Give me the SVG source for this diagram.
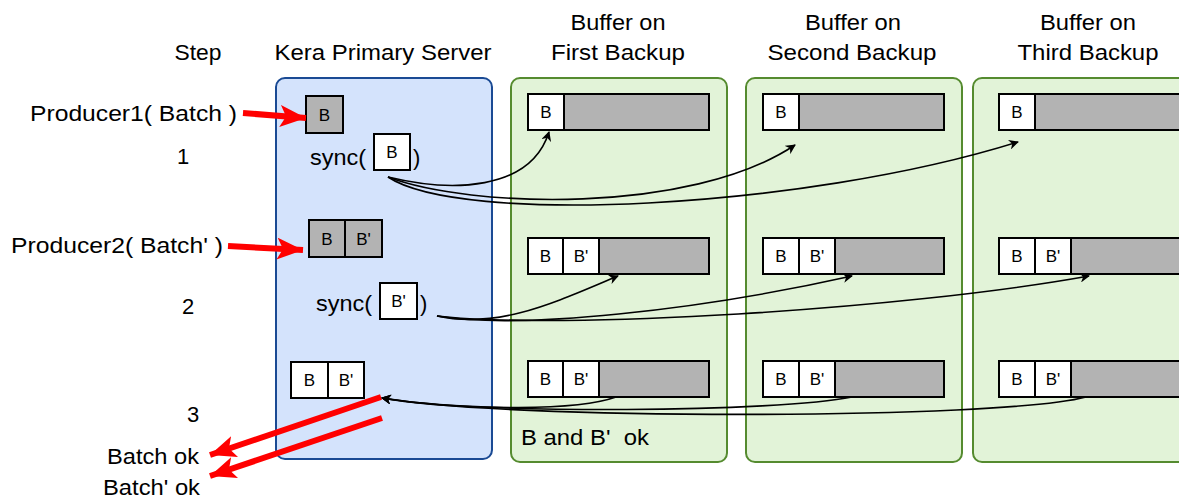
<svg xmlns="http://www.w3.org/2000/svg" width="1179" height="498" viewBox="0 0 1179 498">
<style>
text{font-family:"Liberation Sans",Arial,sans-serif;fill:#000;white-space:pre}
.h{font-size:22px;text-anchor:middle}
.t{font-size:22px}
.c{font-size:17px;text-anchor:middle}
.g{fill:#b3b3b3;stroke:#000;stroke-width:2}
.w{fill:#fff;stroke:#000;stroke-width:2}
.srv{fill:#d4e3fc;stroke:#1a4a94;stroke-width:2}
.bk{fill:#e2f3d8;stroke:#558b2f;stroke-width:2}
.con{fill:none;stroke:#000;stroke-width:1.6}
.red{fill:none;stroke:#ff0000;stroke-width:6}
</style>
<defs>
<marker id="ah" markerWidth="10" markerHeight="10" refX="9" refY="5" orient="auto" markerUnits="userSpaceOnUse">
<path d="M0,0 L10,5 L0,10 L3,5 Z" fill="#000"/>
</marker>
<marker id="rh" markerWidth="28" markerHeight="22" refX="26" refY="11" orient="auto" markerUnits="userSpaceOnUse">
<path d="M0,0 L26,11 L0,22 L6,11 Z" fill="#ff0000"/>
</marker>
</defs>

<g id="headers">
<text class="h" x="198" y="60" textLength="47" lengthAdjust="spacingAndGlyphs">Step</text>
<text class="h" x="383" y="60" textLength="217" lengthAdjust="spacingAndGlyphs">Kera Primary Server</text>
<text class="h" x="618" y="30" textLength="95" lengthAdjust="spacingAndGlyphs">Buffer on</text>
<text class="h" x="618" y="60" textLength="134" lengthAdjust="spacingAndGlyphs">First Backup</text>
<text class="h" x="853" y="30" textLength="96" lengthAdjust="spacingAndGlyphs">Buffer on</text>
<text class="h" x="852" y="60" textLength="169" lengthAdjust="spacingAndGlyphs">Second Backup</text>
<text class="h" x="1088" y="30" textLength="96" lengthAdjust="spacingAndGlyphs">Buffer on</text>
<text class="h" x="1088" y="60" textLength="141" lengthAdjust="spacingAndGlyphs">Third Backup</text>
</g>

<g id="steps">
<text class="h" x="183" y="164">1</text>
<text class="h" x="188" y="314">2</text>
<text class="h" x="193" y="422">3</text>
</g>

<g id="server">
<rect class="srv" x="276" y="78" width="216" height="381" rx="9"/>
</g>
<g id="backup1"><rect class="bk" x="511" y="78" width="216" height="384" rx="9"/></g>
<g id="backup2"><rect class="bk" x="746" y="78" width="216" height="384" rx="9"/></g>
<g id="backup3"><rect class="bk" x="973" y="78" width="216" height="384" rx="9"/></g>

<g id="server-items">
<rect class="g" x="306" y="96" width="37" height="37"/>
<text class="c" x="324.5" y="121">B</text>
<text class="t" x="310" y="165" textLength="56" lengthAdjust="spacingAndGlyphs">sync(</text>
<rect class="w" x="374" y="134" width="36" height="36"/>
<text class="c" x="392" y="158">B</text>
<text class="t" x="413" y="165">)</text>
<rect class="g" x="309" y="220" width="36" height="37"/>
<rect class="g" x="345" y="220" width="37" height="37"/>
<text class="c" x="327" y="245">B</text>
<text class="c" x="363.5" y="245">B'</text>
<text class="t" x="316" y="311" textLength="56" lengthAdjust="spacingAndGlyphs">sync(</text>
<rect class="w" x="380" y="283" width="37" height="36"/>
<text class="c" x="398.5" y="307">B'</text>
<text class="t" x="420" y="311">)</text>
<rect class="w" x="291" y="362" width="37" height="36"/>
<rect class="w" x="328" y="362" width="36" height="36"/>
<text class="c" x="309.5" y="386">B</text>
<text class="c" x="346" y="386">B'</text>
</g>

<g id="buffers">
<rect class="g" x="528" y="94" width="181" height="36"/>
<rect class="w" x="528" y="94" width="36" height="36"/>
<text class="c" x="546" y="118">B</text>
<rect class="g" x="763" y="94" width="181" height="36"/>
<rect class="w" x="763" y="94" width="36" height="36"/>
<text class="c" x="781" y="118">B</text>
<rect class="g" x="999" y="94" width="190" height="36"/>
<rect class="w" x="999" y="94" width="36" height="36"/>
<text class="c" x="1017" y="118">B</text>

<rect class="g" x="528" y="238" width="181" height="36"/>
<rect class="w" x="528" y="238" width="35" height="36"/>
<rect class="w" x="563" y="238" width="36" height="36"/>
<text class="c" x="545.5" y="262">B</text>
<text class="c" x="581" y="262">B'</text>
<rect class="g" x="763" y="238" width="181" height="36"/>
<rect class="w" x="763" y="238" width="36" height="36"/>
<rect class="w" x="799" y="238" width="36" height="36"/>
<text class="c" x="781" y="262">B</text>
<text class="c" x="817" y="262">B'</text>
<rect class="g" x="999" y="238" width="190" height="36"/>
<rect class="w" x="999" y="238" width="36" height="36"/>
<rect class="w" x="1035" y="238" width="36" height="36"/>
<text class="c" x="1017" y="262">B</text>
<text class="c" x="1053" y="262">B'</text>

<rect class="g" x="528" y="361" width="181" height="36"/>
<rect class="w" x="528" y="361" width="35" height="36"/>
<rect class="w" x="563" y="361" width="36" height="36"/>
<text class="c" x="545.5" y="385">B</text>
<text class="c" x="581" y="385">B'</text>
<rect class="g" x="763" y="361" width="181" height="36"/>
<rect class="w" x="763" y="361" width="36" height="36"/>
<rect class="w" x="799" y="361" width="36" height="36"/>
<text class="c" x="781" y="385">B</text>
<text class="c" x="817" y="385">B'</text>
<rect class="g" x="999" y="361" width="190" height="36"/>
<rect class="w" x="999" y="361" width="36" height="36"/>
<rect class="w" x="1035" y="361" width="36" height="36"/>
<text class="c" x="1017" y="385">B</text>
<text class="c" x="1053" y="385">B'</text>

<text class="t" x="521" y="445" textLength="128" lengthAdjust="spacingAndGlyphs">B and B'  ok</text>
</g>

<g id="producers">
<text class="t" x="30" y="121" textLength="207" lengthAdjust="spacingAndGlyphs">Producer1( Batch )</text>
<text class="t" x="11" y="253" textLength="212" lengthAdjust="spacingAndGlyphs">Producer2( Batch' )</text>
<text class="t" x="107" y="464" textLength="92" lengthAdjust="spacingAndGlyphs">Batch ok</text>
<text class="t" x="103" y="495" textLength="97" lengthAdjust="spacingAndGlyphs">Batch' ok</text>
</g>

<g id="connectors">
<path class="red" d="M243,113 L306,118" marker-end="url(#rh)"/>
<path class="red" d="M228,246 L303,250" marker-end="url(#rh)"/>
<path class="red" d="M381,397 L210,455" marker-end="url(#rh)"/>
<path class="red" d="M382,418 L210,476" marker-end="url(#rh)"/>

<path class="con" d="M388,177 C450,192 530,192 549,132" marker-end="url(#ah)"/>
<path class="con" d="M388,177 C470,208 690,215 795,145" marker-end="url(#ah)"/>
<path class="con" d="M388,177 C460,225 800,210 1018,142" marker-end="url(#ah)"/>

<path class="con" d="M437,316 C500,330 560,300 618,276" marker-end="url(#ah)"/>
<path class="con" d="M437,316 C520,330 700,310 852,276" marker-end="url(#ah)"/>
<path class="con" d="M437,316 C560,330 900,310 1089,276" marker-end="url(#ah)"/>

<path class="con" d="M616,397 C580,410 470,412 382,398" marker-end="url(#ah)"/>
<path class="con" d="M852,397 C780,412 480,415 382,398" marker-end="url(#ah)"/>
<path class="con" d="M1086,397 C1000,420 500,420 382,398" marker-end="url(#ah)"/>
</g>
</svg>
